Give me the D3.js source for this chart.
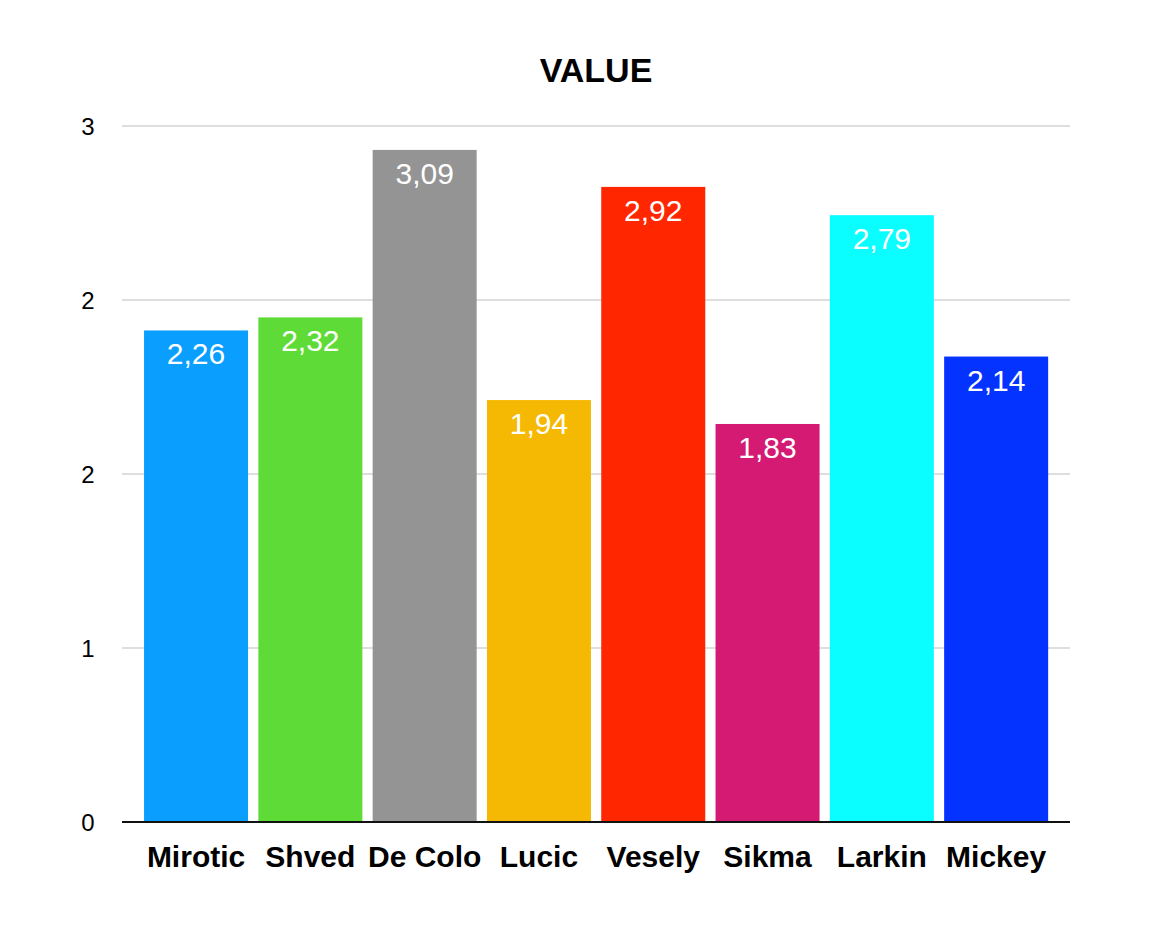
<!DOCTYPE html>
<html><head><meta charset="utf-8">
<script src="https://cdn.jsdelivr.net/npm/d3@7/dist/d3.min.js"></script>
<style>body{margin:0;background:#fff;} text{font-family:"Liberation Sans",Arial,Helvetica,sans-serif;}</style>
</head><body>
<svg id="c" width="1156" height="925"></svg>
<script>
const categories = ["Mirotic","Shved","De Colo","Lucic","Vesely","Sikma","Larkin","Mickey"];
const values = [2.26, 2.32, 3.09, 1.94, 2.92, 1.83, 2.79, 2.14];
const colors = ["#0A9FFF","#5FDB37","#949494","#F6B903","#FF2600","#D41A73","#0AFDFF","#0433FF"];
const tickValues = [0, 0.8, 1.6, 2.4, 3.2];
const tickLabels = ["0","1","2","2","3"];
const title = "VALUE";

const svg = d3.select("#c");
const y = d3.scaleLinear().domain([0, 3.2]).range([822, 126]);
const x = d3.scaleBand().domain(categories).range([138.9, 1053.3]).paddingInner(0.09).paddingOuter(0.045);
const gridX0 = 122, gridX1 = 1070;

// gridlines
svg.append("g").selectAll("line").data(tickValues.slice(1)).join("line")
  .attr("x1", gridX0).attr("x2", gridX1)
  .attr("y1", d => y(d)).attr("y2", d => y(d))
  .attr("stroke", "#bdbdbd").attr("stroke-width", 1);

// y tick labels
svg.append("g").selectAll("text").data(tickValues).join("text")
  .attr("x", 88).attr("y", d => y(d) + 9)
  .attr("text-anchor", "middle").attr("font-size", 24).attr("fill", "#000")
  .text((d, i) => tickLabels[i]);

// bars
svg.append("g").selectAll("rect").data(values).join("rect")
  .attr("x", (d, i) => x(categories[i]))
  .attr("width", x.bandwidth())
  .attr("y", d => y(d))
  .attr("height", d => y(0) - y(d))
  .attr("fill", (d, i) => colors[i]);

// value labels
svg.append("g").selectAll("text").data(values).join("text")
  .attr("x", (d, i) => x(categories[i]) + x.bandwidth() / 2)
  .attr("y", d => y(d) + 34)
  .attr("text-anchor", "middle").attr("font-size", 30).attr("fill", "#fff")
  .text(d => d.toFixed(2).replace(".", ","));

// baseline
svg.append("line").attr("x1", gridX0).attr("x2", gridX1)
  .attr("y1", y(0)).attr("y2", y(0)).attr("stroke", "#111").attr("stroke-width", 2);

// category labels
svg.append("g").selectAll("text").data(categories).join("text")
  .attr("x", d => x(d) + x.bandwidth() / 2)
  .attr("y", 867)
  .attr("text-anchor", "middle").attr("font-size", 30).attr("font-weight", "bold").attr("fill", "#000")
  .text(d => d);

// title
svg.append("text").attr("x", 596).attr("y", 82).attr("text-anchor", "middle")
  .attr("font-size", 34).attr("font-weight", "bold").attr("fill", "#000").text(title);
</script>
</body></html>
